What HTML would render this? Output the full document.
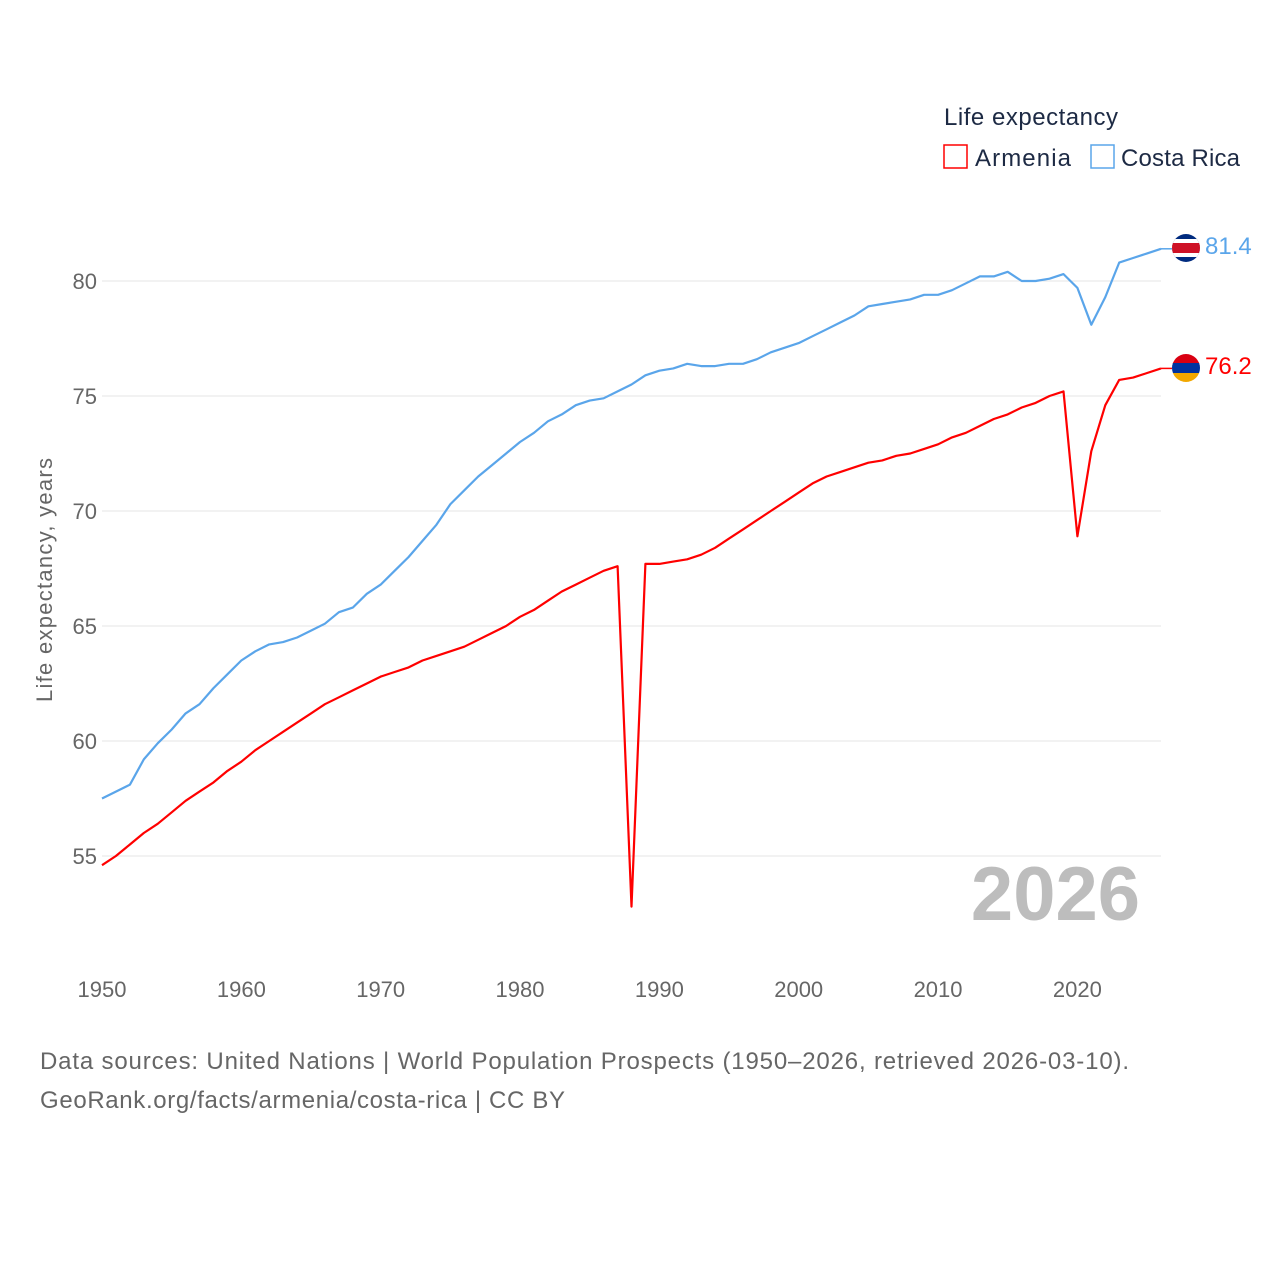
<!DOCTYPE html>
<html><head><meta charset="utf-8"><style>
body{margin:0;background:#fff;}
svg{display:block;font-family:"Liberation Sans",sans-serif;}
</style></head><body>
<svg id="chart" width="1280" height="1280" viewBox="0 0 1280 1280">
<defs>
<clipPath id="cr"><circle cx="1186" cy="248" r="14"/></clipPath>
<clipPath id="am"><circle cx="1186" cy="368" r="14"/></clipPath>
</defs>
<g id="grid"></g>
<g id="yticks"></g>
<g id="xticks"></g>
<g id="lines"></g>
<text x="52" y="580" transform="rotate(-90 52 580)" text-anchor="middle" font-size="22" fill="#666" textLength="244">Life expectancy, years</text>
<text x="1140" y="920" text-anchor="end" font-size="76" font-weight="bold" fill="#bdbdbd">2026</text>
<text x="944" y="125" font-size="24" fill="#1d2a44" textLength="174">Life expectancy</text>
<g><rect x="944" y="145" width="23" height="23" fill="none" stroke="#f00" stroke-width="1.5"/><text x="975" y="166" font-size="24" fill="#1d2a44" textLength="96">Armenia</text></g>
<g><rect x="1091" y="145" width="23" height="23" fill="none" stroke="#5aa5ea" stroke-width="1.5"/><text x="1121" y="166" font-size="24" fill="#1d2a44" textLength="119">Costa Rica</text></g>
<g clip-path="url(#cr)">
<rect x="1172" y="234" width="28" height="28" fill="#002b7f"/><rect x="1172" y="239" width="28" height="18" fill="#fff"/><rect x="1172" y="243" width="28" height="10" fill="#ce1126"/></g>
<g clip-path="url(#am)">
<rect x="1172" y="354" width="28" height="10" fill="#d90012"/><rect x="1172" y="363" width="28" height="10" fill="#0033a0"/><rect x="1172" y="373" width="28" height="10" fill="#f2a800"/></g>
<text x="1205" y="254" font-size="24" fill="#5aa5ea">81.4</text>
<text x="1205" y="374" font-size="24" fill="#f00">76.2</text>
<text x="40" y="1069" font-size="24" fill="#666" textLength="1089">Data sources: United Nations | World Population Prospects (1950–2026, retrieved 2026-03-10).</text>
<text x="40" y="1108" font-size="24" fill="#666" textLength="525">GeoRank.org/facts/armenia/costa-rica | CC BY</text>
</svg>
<script>
const years=[];for(let y=1950;y<=2026;y++)years.push(y);
const costaRica=[57.5,57.8,58.1,59.2,59.9,60.5,61.2,61.6,62.3,62.9,63.5,63.9,64.2,64.3,64.5,64.8,65.1,65.6,65.8,66.4,66.8,67.4,68.0,68.7,69.4,70.3,70.9,71.5,72.0,72.5,73.0,73.4,73.9,74.2,74.6,74.8,74.9,75.2,75.5,75.9,76.1,76.2,76.4,76.3,76.3,76.4,76.4,76.6,76.9,77.1,77.3,77.6,77.9,78.2,78.5,78.9,79.0,79.1,79.2,79.4,79.4,79.6,79.9,80.2,80.2,80.4,80.0,80.0,80.1,80.3,79.7,78.1,79.3,80.8,81.0,81.2,81.4];
const armenia=[54.6,55.0,55.5,56.0,56.4,56.9,57.4,57.8,58.2,58.7,59.1,59.6,60.0,60.4,60.8,61.2,61.6,61.9,62.2,62.5,62.8,63.0,63.2,63.5,63.7,63.9,64.1,64.4,64.7,65.0,65.4,65.7,66.1,66.5,66.8,67.1,67.4,67.6,52.8,67.7,67.7,67.8,67.9,68.1,68.4,68.8,69.2,69.6,70.0,70.4,70.8,71.2,71.5,71.7,71.9,72.1,72.2,72.4,72.5,72.7,72.9,73.2,73.4,73.7,74.0,74.2,74.5,74.7,75.0,75.2,68.9,72.6,74.6,75.7,75.8,76.0,76.2];
const yTicks=[55,60,65,70,75,80];
const xTicks=[1950,1960,1970,1980,1990,2000,2010,2020];
const X=y=>102+(y-1950)*(1161-102)/76;
const Y=v=>281+(80-v)*23;
const NS="http://www.w3.org/2000/svg";
function mk(tag,parent,attrs){const e=document.createElementNS(NS,tag);for(const k in attrs)e.setAttribute(k,attrs[k]);document.getElementById(parent).appendChild(e);return e;}
yTicks.forEach(v=>{
 const l=mk('line','grid',{x1:102,x2:1161,y1:Y(v),y2:Y(v),stroke:'#e6e6e6','stroke-width':1});
 
 
 const t=mk('text','yticks',{x:97,y:Y(v)+8,'text-anchor':'end','font-size':22,fill:'#666'});t.textContent=v;
 
 
});
xTicks.forEach(v=>{
 const t=mk('text','xticks',{x:X(v),y:997,'text-anchor':'middle','font-size':22,fill:'#666'});t.textContent=v;
 
 
});
function line(vals,color,name){
 const d=vals.map((v,i)=>(i?'L':'M')+X(years[i]).toFixed(1)+','+Y(v).toFixed(1)).join('');
 const p=mk('path','lines',{d:d,fill:'none',stroke:color,'stroke-width':2.2,'stroke-linejoin':'round'});
 
 
 const last=vals[vals.length-1];
 const s=mk('line','lines',{x1:X(2026),x2:1172,y1:Y(last),y2:Y(last),stroke:color,'stroke-width':1.5});
 
 
}
line(costaRica,'#5aa5ea','costa-rica-line');
line(armenia,'#ff0000','armenia-line');
</script>
</body></html>
